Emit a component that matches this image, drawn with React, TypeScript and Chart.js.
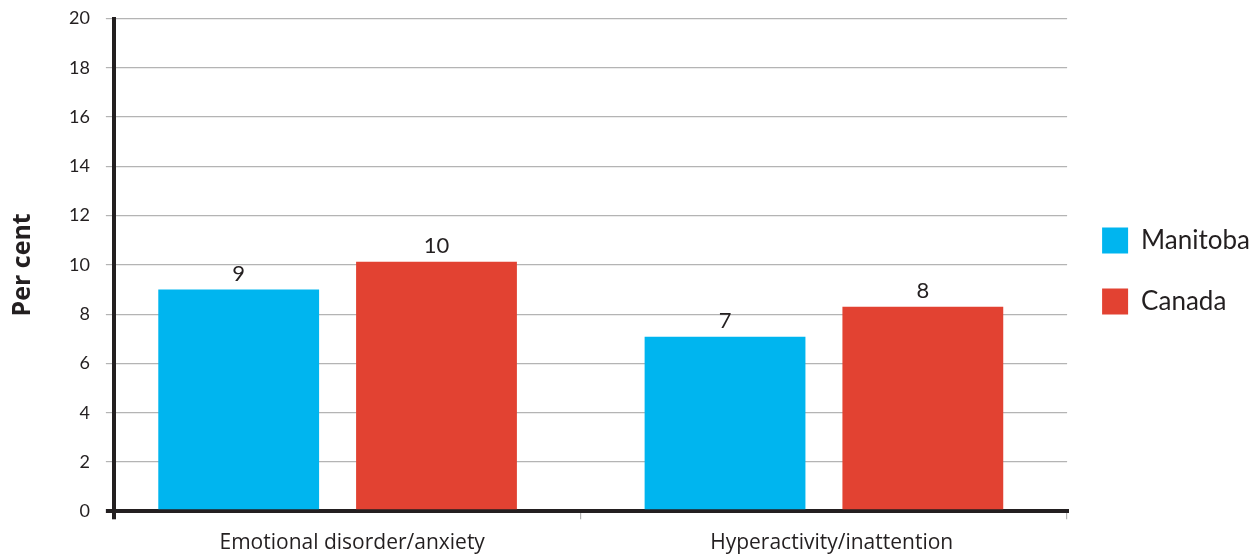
import React, { useEffect, useRef } from "react";
import { Chart, registerables } from "chart.js";

Chart.register(...registerables);

// ---- data ----
const categories = ["Emotional disorder/anxiety", "Hyperactivity/inattention"];
const seriesNames = ["Manitoba", "Canada"];
const manitobaValues = [9.0, 7.08];
const canadaValues = [10.13, 8.3];
const yTickValues = [0, 2, 4, 6, 8, 10, 12, 14, 16, 18, 20];
const categoryPositions = [0, 1];
const labelPositions = [0.03, 1.016];
const dividerPositions = [0.5, 1.5];

// ---- style ----
const DARK = "#231f20";
const GRID = "#b4b4b4";
const BLUE = "#00b5ef";
const RED = "#e24232";
const X_MIN = -0.46;
const X_MAX = 1.5;

const valueLabels = {
  id: "valueLabels",
  afterDatasetsDraw(chart: any) {
    const ctx = chart.ctx;
    ctx.save();
    ctx.font = "22px Lato";
    ctx.fillStyle = DARK;
    ctx.textAlign = "center";
    ctx.textBaseline = "alphabetic";
    chart.data.datasets.forEach((ds: any, i: number) => {
      const meta = chart.getDatasetMeta(i);
      meta.data.forEach((el: any, j: number) => {
        const v = ds.data[j].y;
        ctx.fillText(String(Math.round(v)), el.x, el.y - 9);
      });
    });
    ctx.restore();
  },
};

export default function App() {
  const ref = useRef<HTMLCanvasElement | null>(null);

  useEffect(() => {
    if (!ref.current) return;
    const seriesValues = [manitobaValues, canadaValues];
    const colors = [BLUE, RED];
    const chart = new Chart(ref.current, {
      type: "bar",
      data: {
        datasets: seriesNames.map((name, s) => ({
          label: name,
          data: categoryPositions.map((x, i) => ({ x, y: seriesValues[s][i] })),
          backgroundColor: colors[s],
          borderWidth: 0,
          barPercentage: 0.813,
          categoryPercentage: 0.825,
          xAxisID: "x",
          yAxisID: "y",
        })),
      },
      options: {
        animation: false,
        responsive: false,
        layout: { padding: { top: 18.5, right: -8, bottom: -12.5, left: 0 } },
        plugins: {
          tooltip: { enabled: false },
          legend: {
            position: "right",
            fullSize: false,
            title: { display: true, text: "", padding: 0, font: { size: 10 } },
            labels: {
              color: DARK,
              font: { family: "Lato", size: 26 },
              boxWidth: 26,
              boxHeight: 26,
              padding: 35,
            },
          },
        },
        scales: {
          x: {
            type: "linear",
            axis: "x",
            position: "bottom",
            weight: 1,
            offset: false,
            min: X_MIN,
            max: X_MAX,
            grid: { display: false, drawTicks: false, tickLength: 0, offset: false },
            border: { display: false },
            afterBuildTicks: (s: any) => {
              s.ticks = labelPositions.map((v) => ({ value: v }));
            },
            ticks: {
              autoSkip: false,
              maxRotation: 0,
              minRotation: 0,
              padding: 11,
              color: DARK,
              font: { family: "Open Sans", size: 21 },
              callback: (_v: any, index: number) => categories[index] ?? "",
            },
          },
          x2: {
            type: "linear",
            axis: "x",
            position: "bottom",
            weight: 0,
            offset: false,
            min: X_MIN,
            max: X_MAX,
            afterBuildTicks: (s: any) => {
              s.ticks = [X_MIN, ...dividerPositions].map((v) => ({ value: v }));
            },
            ticks: { display: false },
            grid: {
              offset: false,
              drawOnChartArea: false,
              drawTicks: true,
              tickLength: 8,
              color: (c: any) => (c.tick && c.tick.value < 0 ? DARK : GRID),
              lineWidth: (c: any) => (c.tick && c.tick.value < 0 ? 4 : 1.2),
            },
            border: { display: true, color: DARK, width: 4 },
          },
          y: {
            type: "linear",
            min: 0,
            max: 20,
            afterBuildTicks: (s: any) => {
              s.ticks = yTickValues.map((v) => ({ value: v }));
            },
            ticks: {
              padding: 16,
              color: DARK,
              font: { family: "Lato", size: 18, lineHeight: 0.2 },
            },
            grid: {
              tickLength: 8,
              drawTicks: true,
              color: (c: any) => (c.tick && c.tick.value === 0 ? DARK : GRID),
              lineWidth: (c: any) => (c.tick && c.tick.value === 0 ? 4 : 1.2),
            },
            border: { color: DARK, width: 4 },
            title: {
              display: true,
              text: "Per cent",
              color: DARK,
              font: { family: "Open Sans", size: 25, weight: "bold" },
              padding: { top: 8, bottom: 15 },
            },
          },
        },
      },
      plugins: [valueLabels],
    } as any);
    return () => chart.destroy();
  }, []);

  return (
    <div style={{ position: "fixed", left: 0, top: 0, width: 1252, height: 554, background: "#fff" }}>
      <canvas ref={ref} width={1252} height={554} style={{ display: "block" }} />
    </div>
  );
}
